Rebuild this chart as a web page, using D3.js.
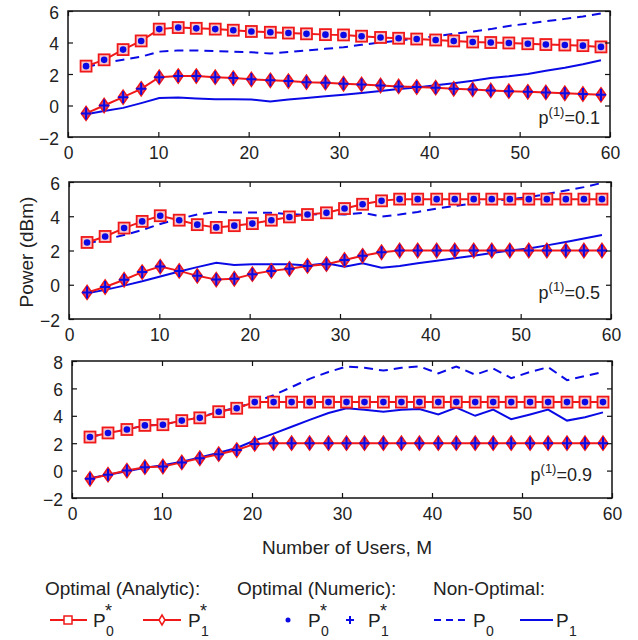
<!DOCTYPE html>
<html>
<head>
<meta charset="utf-8">
<script src="https://cdn.jsdelivr.net/npm/d3@7"></script>
<style>
  body { margin: 0; background: #fff; }
  svg text { font-family: "Liberation Sans", Arial, sans-serif; fill: #222; }
</style>
</head>
<body>
<div id="chart"></div>
<script>
// number of users M (x positions of the markers)
var users = [2, 4, 6.1, 8.1, 10.1, 12.2, 14.2, 16.3, 18.3, 20.3, 22.4, 24.4, 26.4, 28.5, 30.5,
             32.5, 34.6, 36.6, 38.6, 40.7, 42.7, 44.8, 46.8, 48.8, 50.9, 52.9, 55, 57, 59];
var xTicks = [0, 10, 20, 30, 40, 50, 60];

// p(1) = 0.1
var a_P0opt = [2.5, 2.9, 3.55, 4.1, 4.85, 4.95, 4.9, 4.85, 4.78, 4.7, 4.65, 4.6, 4.55, 4.5, 4.48,
               4.4, 4.32, 4.27, 4.22, 4.16, 4.1, 4.03, 4.0, 3.97, 3.92, 3.87, 3.84, 3.8, 3.72];
var a_P1opt = [-0.5, 0.0, 0.53, 1.06, 1.8, 1.87, 1.87, 1.8, 1.74, 1.66, 1.6, 1.55, 1.48, 1.45, 1.38,
               1.34, 1.27, 1.21, 1.17, 1.13, 1.06, 1.02, 0.96, 0.91, 0.87, 0.83, 0.78, 0.73, 0.68];
var a_P0 = [2.45, 2.7, 2.9, 3.1, 3.42, 3.5, 3.5, 3.45, 3.42, 3.38, 3.3, 3.4, 3.5, 3.6, 3.7,
            3.85, 4.0, 4.12, 4.25, 4.4, 4.55, 4.7, 4.85, 5.05, 5.2, 5.35, 5.5, 5.65, 5.85];
var a_P1 = [-0.55, -0.35, -0.15, 0.15, 0.47, 0.5, 0.45, 0.4, 0.4, 0.38, 0.25, 0.38, 0.48, 0.58, 0.68,
            0.8, 0.92, 1.05, 1.15, 1.28, 1.42, 1.57, 1.74, 1.85, 2.0, 2.2, 2.4, 2.62, 2.87];

// p(1) = 0.5
var b_P0opt = [2.47, 2.82, 3.31, 3.7, 4.03, 3.77, 3.51, 3.35, 3.45, 3.57, 3.77, 3.96, 4.1, 4.2, 4.45,
               4.7, 4.9, 5, 5, 5, 5, 5, 5, 5, 5, 5, 5, 5, 5];
var b_P1opt = [-0.45, -0.13, 0.29, 0.74, 1.06, 0.81, 0.52, 0.3, 0.35, 0.62, 0.81, 0.93, 1.1, 1.2, 1.45,
               1.69, 1.9, 2, 2, 2, 2, 2, 2, 2, 2, 2, 2, 2, 2];
var b_P0 = [2.4, 2.65, 2.9, 3.2, 3.55, 3.85, 4.1, 4.25, 4.22, 4.22, 4.2, 4.12, 4.08, 4.15, 4.1,
            4.2, 3.98, 4.1, 4.25, 4.45, 4.6, 4.75, 4.88, 5.0, 5.12, 5.3, 5.5, 5.7, 5.95];
var b_P1 = [-0.5, -0.3, -0.05, 0.2, 0.48, 0.77, 1.03, 1.28, 1.15, 1.2, 1.2, 1.2, 1.12, 1.25, 1.05,
            1.25, 1.0, 1.1, 1.25, 1.4, 1.55, 1.7, 1.85, 2.0, 2.12, 2.3, 2.5, 2.7, 2.9];

// p(1) = 0.9
var c_P0opt = [2.45, 2.75, 3.0, 3.3, 3.35, 3.65, 3.85, 4.3, 4.55, 5, 5, 5, 5, 5, 5,
               5, 5, 5, 5, 5, 5, 5, 5, 5, 5, 5, 5, 5, 5];
var c_P1opt = [-0.6, -0.3, 0, 0.25, 0.3, 0.6, 0.9, 1.2, 1.5, 1.95, 2, 2, 2, 2, 2,
               2, 2, 2, 2, 2, 2, 2, 2, 2, 2, 2, 2, 2, 2];
var c_P0 = [2.45, 2.75, 3.0, 3.3, 3.35, 3.65, 3.9, 4.3, 4.6, 5.0, 5.5, 6.1, 6.7, 7.2, 7.6,
            7.5, 7.3, 7.5, 7.6, 7.1, 7.6, 7.0, 7.45, 6.75, 7.2, 7.55, 6.6, 6.9, 7.2];
var c_P1 = [-0.55, -0.3, -0.05, 0.2, 0.4, 0.65, 0.95, 1.3, 1.65, 2.2, 2.7, 3.2, 3.7, 4.2, 4.55,
            4.45, 4.3, 4.45, 4.5, 4.1, 4.6, 4.0, 4.45, 3.75, 4.1, 4.45, 3.65, 3.9, 4.25];

var W = 638, H = 640;
var RED = "#f01818", BLUE = "#0a0ae6";

var svg = d3.select("#chart").append("svg").attr("width", W).attr("height", H);

var panels = [
  { p: "0.1", yDom: [-2, 6], yTicks: [-2, 0, 2, 4, 6], left: 68, right: 610, top: 11, bottom: 137,
    P0opt: a_P0opt, P1opt: a_P1opt, P0: a_P0, P1: a_P1, labX: 600, labY: 124 },
  { p: "0.5", yDom: [-2, 6], yTicks: [-2, 0, 2, 4, 6], left: 69, right: 611, top: 182, bottom: 319,
    P0opt: b_P0opt, P1opt: b_P1opt, P0: b_P0, P1: b_P1, labX: 600, labY: 299 },
  { p: "0.9", yDom: [-2, 8], yTicks: [-2, 0, 2, 4, 6, 8], left: 72, right: 612, top: 361, bottom: 498,
    P0opt: c_P0opt, P1opt: c_P1opt, P0: c_P0, P1: c_P1, labX: 592, labY: 481 }
];

var diamond = "M0,-7L4.8,0L0,7L-4.8,0Z";
var plus = "M-5,0H5M0,-6V6";

function drawPanel(cfg) {
  var x = d3.scaleLinear().domain([0, 60]).range([cfg.left, cfg.right]);
  var y = d3.scaleLinear().domain(cfg.yDom).range([cfg.bottom, cfg.top]);
  var g = svg.append("g");

  var line = function(vals) {
    return d3.line().x(function(d, i) { return x(users[i]); }).y(function(d) { return y(d); })(vals);
  };

  // non-optimal
  g.append("path").attr("d", line(cfg.P0)).attr("fill", "none").attr("stroke", BLUE)
    .attr("stroke-width", 2).attr("stroke-dasharray", "9,6");
  g.append("path").attr("d", line(cfg.P1)).attr("fill", "none").attr("stroke", BLUE)
    .attr("stroke-width", 2);

  // analytic
  g.append("path").attr("d", line(cfg.P0opt)).attr("fill", "none").attr("stroke", RED).attr("stroke-width", 2);
  g.append("path").attr("d", line(cfg.P1opt)).attr("fill", "none").attr("stroke", RED).attr("stroke-width", 2);

  g.selectAll(".sq").data(cfg.P0opt).enter().append("rect")
    .attr("x", function(d, i) { return x(users[i]) - 5.5; })
    .attr("y", function(d) { return y(d) - 5.5; })
    .attr("width", 11).attr("height", 11)
    .attr("fill", "#f6c6cc").attr("stroke", RED).attr("stroke-width", 1.8);
  g.selectAll(".dm").data(cfg.P1opt).enter().append("path")
    .attr("d", diamond)
    .attr("transform", function(d, i) { return "translate(" + x(users[i]) + "," + y(d) + ")"; })
    .attr("fill", "#c04a8a").attr("stroke", RED).attr("stroke-width", 1.6);

  // numeric
  g.selectAll(".dot").data(cfg.P0opt).enter().append("circle")
    .attr("cx", function(d, i) { return x(users[i]); })
    .attr("cy", function(d) { return y(d); })
    .attr("r", 3.3).attr("fill", BLUE);
  g.selectAll(".pl").data(cfg.P1opt).enter().append("path")
    .attr("d", plus)
    .attr("transform", function(d, i) { return "translate(" + x(users[i]) + "," + y(d) + ")"; })
    .attr("fill", "none").attr("stroke", BLUE).attr("stroke-width", 2);

  // box and inward ticks
  g.append("rect").attr("x", cfg.left).attr("y", cfg.top)
    .attr("width", cfg.right - cfg.left).attr("height", cfg.bottom - cfg.top)
    .attr("fill", "none").attr("stroke", "#111").attr("stroke-width", 1.5);

  var xa = g.append("g").attr("transform", "translate(0," + cfg.bottom + ")")
    .call(d3.axisBottom(x).tickValues(xTicks).tickSize(-5).tickPadding(10));
  var xt = g.append("g").attr("transform", "translate(0," + cfg.top + ")")
    .call(d3.axisTop(x).tickValues(xTicks).tickSize(-5).tickFormat(""));
  var ya = g.append("g").attr("transform", "translate(" + cfg.left + ",0)")
    .call(d3.axisLeft(y).tickValues(cfg.yTicks).tickSize(-5).tickPadding(9));
  var yr = g.append("g").attr("transform", "translate(" + cfg.right + ",0)")
    .call(d3.axisRight(y).tickValues(cfg.yTicks).tickSize(-5).tickFormat(""));
  [xa, xt, ya, yr].forEach(function(a) {
    a.select(".domain").remove();
    a.selectAll(".tick line").attr("stroke", "#111").attr("stroke-width", 1.2);
    a.selectAll("text").attr("font-size", 17.5).attr("fill", "#222")
      .style("font-family", "'Liberation Sans', Arial, sans-serif");
  });
  ya.selectAll("text").attr("dy", "0.4em");

  // p(1) label
  var t = g.append("text").attr("x", cfg.labX).attr("y", cfg.labY)
    .attr("text-anchor", "end").attr("font-size", 18);
  t.append("tspan").text("p");
  t.append("tspan").attr("font-size", 13).attr("dy", -8).text("(1)");
  t.append("tspan").attr("dy", 8).text("=" + cfg.p);
}

panels.forEach(drawPanel);

// axis titles
svg.append("text").attr("x", 347).attr("y", 554).attr("text-anchor", "middle")
  .attr("font-size", 19).text("Number of Users, M");
svg.append("text").attr("transform", "translate(33,252) rotate(-90)").attr("text-anchor", "middle")
  .attr("font-size", 19).text("Power (dBm)");

// legend
var legTitles = [
  { t: "Optimal (Analytic):", x: 45 },
  { t: "Optimal (Numeric):", x: 237 },
  { t: "Non-Optimal:", x: 433 }
];
svg.selectAll(".lt").data(legTitles).enter().append("text")
  .attr("x", function(d) { return d.x; }).attr("y", 595)
  .attr("font-size", 19).text(function(d) { return d.t; });

var ly = 620;
var leg = svg.append("g");
function legLabel(xp, sub, star) {
  leg.append("text").attr("x", xp).attr("y", ly + 7).attr("font-size", 19).text("P");
  if (star) leg.append("text").attr("x", xp + 12).attr("y", ly - 3).attr("font-size", 18).text("*");
  leg.append("text").attr("x", xp + 13).attr("y", ly + 16).attr("font-size", 14).text(sub);
}
// analytic P0*
leg.append("line").attr("x1", 50).attr("x2", 87).attr("y1", ly).attr("y2", ly).attr("stroke", RED).attr("stroke-width", 2);
leg.append("rect").attr("x", 64).attr("y", ly - 4).attr("width", 8).attr("height", 8).attr("fill", "#fff").attr("stroke", RED).attr("stroke-width", 1.5);
legLabel(93, "0", true);
// analytic P1*
leg.append("line").attr("x1", 143).attr("x2", 181).attr("y1", ly).attr("y2", ly).attr("stroke", RED).attr("stroke-width", 2);
leg.append("path").attr("d", "M0,-5L3,0L0,5L-3,0Z").attr("transform", "translate(162," + ly + ")").attr("fill", "#fff").attr("stroke", RED).attr("stroke-width", 1.5);
legLabel(188, "1", true);
// numeric
leg.append("circle").attr("cx", 288).attr("cy", ly).attr("r", 2.5).attr("fill", BLUE);
legLabel(308, "0", true);
leg.append("path").attr("d", "M-4,0H4M0,-4V4").attr("transform", "translate(350," + ly + ")").attr("stroke", BLUE).attr("stroke-width", 2);
legLabel(368, "1", true);
// non-optimal
leg.append("line").attr("x1", 434).attr("x2", 469).attr("y1", ly).attr("y2", ly).attr("stroke", BLUE).attr("stroke-width", 2).attr("stroke-dasharray", "7,5");
legLabel(473, "0", false);
leg.append("line").attr("x1", 520).attr("x2", 553).attr("y1", ly).attr("y2", ly).attr("stroke", BLUE).attr("stroke-width", 2);
legLabel(556, "1", false);
</script>
</body>
</html>
